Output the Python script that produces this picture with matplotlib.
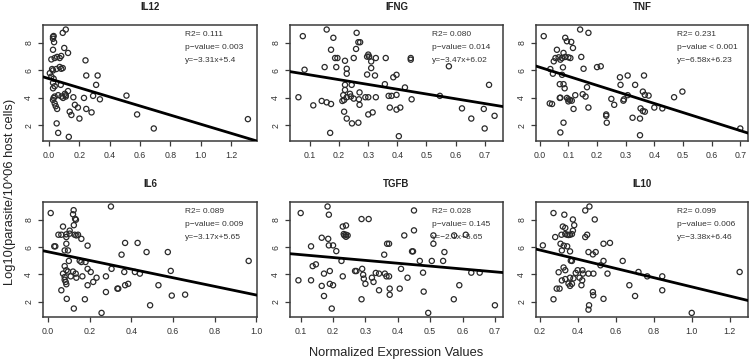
import matplotlib
matplotlib.use("Agg")
import matplotlib.pyplot as plt
import numpy as np

plt.rcParams['font.family'] = ['Liberation Sans', 'DejaVu Sans']

# ---------------- data ----------------
panels = ["IL12", "IFNG", "TNF", "IL6", "TGFB", "IL10"]

il12_x = [0.026,0.026,0.03,0.033,0.09,0.11,0.10,0.125,0.026,0.015,0.037,0.053,0.07,0.08,0.02,0.026,0.048,0.07,0.08,0.09,
          0.005,0.015,0.03,0.026,0.037,0.026,0.077,0.037,0.03,0.026,0.037,0.044,0.053,0.06,0.082,0.092,0.11,0.125,0.104,0.11,
          0.05,0.06,0.13,0.136,0.147,0.16,0.17,0.19,0.2,0.23,0.24,0.245,0.32,0.245,0.28,0.29,0.31,0.335,0.51,0.58,0.69,1.31]
il12_y = [8.44,8.3,8.5,8.05,8.73,8.97,7.63,7.27,7.5,6.8,6.9,6.98,6.9,7.05,6.1,6.0,6.1,6.25,6.12,6.17,
          5.8,5.55,5.4,5.1,4.85,4.7,4.95,4.1,4.0,3.85,3.6,3.4,3.2,4.2,4.1,4.0,4.2,4.5,4.3,4.1,
          2.15,1.46,1.17,3.0,2.76,4.05,3.5,3.3,2.5,4.0,6.73,5.63,5.63,3.2,2.95,4.15,4.95,3.9,4.17,2.8,1.78,2.46]

ifng_x = [0.075,0.081,0.06,0.111,0.14,0.157,0.172,0.157,0.18,0.172,0.186,0.194,0.19,0.15,0.22,0.226,0.226,0.26,0.258,0.266,
          0.272,0.25,0.22,0.22,0.214,0.226,0.217,0.211,0.243,0.237,0.24,0.25,0.217,0.226,0.244,0.266,0.169,0.27,0.268,0.27,
          0.29,0.3,0.3,0.296,0.303,0.31,0.31,0.296,0.323,0.326,0.3,0.315,0.326,0.36,0.357,0.37,0.38,0.397,0.374,0.386,
          0.397,0.397,0.41,0.405,0.426,0.446,0.446,0.449,0.546,0.577,0.622,0.654,0.715,0.697,0.7,0.734]
ifng_y = [8.49,6.05,4.05,3.46,3.78,3.68,3.56,8.97,8.37,7.5,6.9,6.9,6.24,6.24,6.7,6.12,5.76,8.73,7.56,8.05,
          8.05,6.9,4.95,4.58,4.2,4.05,3.85,3.78,4.95,4.3,4.1,3.95,3.0,2.5,2.15,2.2,1.46,4.4,3.9,3.5,
          4.05,4.05,7.15,7.0,7.0,6.65,6.17,5.7,5.63,6.9,2.8,2.95,4.05,6.9,5.0,4.15,4.15,4.22,3.3,5.5,
          5.68,3.15,3.3,1.22,4.76,6.9,6.78,3.9,4.15,6.3,3.24,2.5,4.95,3.2,1.78,2.7]

tnf_x = [0.014,0.089,0.095,0.11,0.141,0.17,0.06,0.083,0.116,0.055,0.066,0.078,0.089,0.1,0.107,0.049,0.072,0.145,0.037,0.046,
         0.081,0.078,0.153,0.2,0.213,0.07,0.083,0.087,0.165,0.07,0.072,0.035,0.043,0.095,0.1,0.1,0.106,0.112,0.124,0.118,
         0.083,0.072,0.15,0.16,0.17,0.232,0.232,0.234,0.25,0.26,0.28,0.282,0.292,0.294,0.307,0.307,0.324,0.333,0.35,0.35,
         0.352,0.36,0.367,0.364,0.36,0.367,0.38,0.4,0.428,0.469,0.498,0.7]
tnf_y = [8.49,8.37,8.12,8.07,8.97,8.73,7.5,7.27,7.63,6.9,6.95,6.9,6.98,6.95,6.9,6.66,6.78,6.98,6.1,5.76,
         6.22,5.68,6.12,6.24,6.3,5.0,5.0,4.7,4.78,4.0,4.02,3.6,3.56,4.0,3.9,3.75,3.85,3.8,4.2,3.2,
         2.2,1.49,4.27,4.1,3.3,2.8,2.7,2.2,3.93,3.5,5.5,4.95,3.8,3.9,5.63,4.2,2.56,4.95,2.5,1.29,
         3.24,3.05,3.0,5.63,4.46,4.22,4.17,3.3,3.24,4.05,4.46,1.78]

il6_x = [0.013,0.03,0.035,0.12,0.123,0.13,0.134,0.124,0.072,0.104,0.05,0.064,0.088,0.104,0.128,0.136,0.144,0.088,0.16,0.088,
         0.08,0.096,0.19,0.152,0.16,0.18,0.1,0.08,0.088,0.096,0.12,0.133,0.136,0.072,0.08,0.08,0.085,0.088,0.109,0.064,
         0.09,0.124,0.19,0.205,0.165,0.19,0.177,0.217,0.233,0.278,0.278,0.257,0.305,0.302,0.333,0.337,0.353,0.37,0.366,0.37,
         0.385,0.417,0.43,0.441,0.473,0.49,0.53,0.575,0.589,0.594,0.658,0.963]
il6_y = [8.49,6.05,6.05,8.4,8.7,8.07,8.0,7.6,7.5,7.2,6.9,6.9,6.93,6.98,6.9,6.85,6.9,6.73,6.6,6.24,
         5.75,5.75,6.1,5.0,4.9,4.9,4.98,4.6,4.3,4.2,4.2,4.05,3.75,4.05,3.8,3.6,3.44,3.27,3.85,2.83,
         2.2,1.49,4.4,4.17,3.85,3.2,2.17,3.44,3.75,3.85,2.7,1.17,4.4,8.97,2.95,2.95,5.44,6.3,4.17,3.2,
         3.3,4.17,6.3,4.05,5.63,1.73,3.2,5.63,4.25,2.44,2.51,4.98]

tgfb_x = [0.1,0.093,0.132,0.132,0.137,0.147,0.165,0.172,0.165,0.172,0.183,0.187,0.185,0.187,0.2,0.21,0.19,0.19,0.2,0.196,
          0.226,0.23,0.23,0.24,0.233,0.235,0.24,0.245,0.24,0.268,0.272,0.288,0.31,0.29,0.293,0.295,0.3,0.288,0.32,0.325,
          0.332,0.342,0.342,0.358,0.36,0.365,0.373,0.375,0.375,0.367,0.373,0.406,0.41,0.42,0.43,0.444,0.447,0.45,0.45,0.468,
          0.478,0.48,0.494,0.505,0.51,0.51,0.54,0.544,0.573,0.59,0.61,0.574,0.627,0.653,0.7]
tgfb_y = [8.49,3.56,6.05,3.56,4.6,4.73,6.68,4.05,3.15,2.41,8.97,8.37,6.6,6.12,6.12,5.7,4.24,3.3,3.2,1.49,
          4.98,3.85,7.5,7.58,6.95,6.85,6.9,6.85,6.75,4.24,4.24,8.05,8.05,4.4,3.97,3.68,3.3,2.17,3.75,3.44,
          4.1,4.05,2.83,5.44,4.05,3.85,3.85,2.95,2.5,6.24,6.24,2.95,4.4,6.85,3.75,5.68,5.68,8.68,7.22,4.98,
          4.12,2.73,1.17,4.98,6.85,6.24,4.98,5.63,2.17,3.2,6.9,6.85,4.12,4.12,1.73]

il10_x = [0.217,0.273,0.282,0.273,0.33,0.322,0.335,0.315,0.335,0.345,0.352,0.36,0.37,0.375,0.382,0.375,0.31,0.327,0.345,0.317,
          0.36,0.364,0.37,0.326,0.335,0.3,0.317,0.335,0.352,0.36,0.37,0.36,0.378,0.29,0.305,0.39,0.4,0.425,0.428,0.41,
          0.424,0.42,0.44,0.462,0.44,0.45,0.49,0.457,0.48,0.495,0.457,0.483,0.48,0.482,0.46,0.457,0.52,0.536,0.536,0.57,
          0.536,0.557,0.637,0.672,0.702,0.72,0.766,0.845,0.845,1.0,1.252]
il10_y = [6.12,8.49,6.73,2.17,8.37,7.5,7.4,6.9,6.95,6.9,6.88,6.9,6.95,7.2,7.6,8.02,6.24,6.1,6.05,5.75,
          5.68,5.0,4.98,4.5,4.3,4.15,3.55,3.65,3.32,3.15,3.3,3.75,3.7,2.95,2.95,4.1,4.3,4.3,4.05,3.75,
          3.56,3.2,8.68,8.97,6.73,6.9,8.02,5.63,5.46,5.63,4.05,4.05,2.7,2.46,1.73,1.41,4.66,4.98,6.24,6.3,
          2.2,4.05,4.98,3.2,2.41,4.17,3.85,3.85,2.83,1.17,4.17]

xs = [il12_x, ifng_x, tnf_x, il6_x, tgfb_x, il10_x]
ys = [il12_y, ifng_y, tnf_y, il6_y, tgfb_y, il10_y]

r2_text = ["0.111", "0.080", "0.231", "0.089", "0.028", "0.099"]
p_text = ["p\u2212value= 0.003", "p\u2212value= 0.014", "p\u2212value < 0.001",
          "p\u2212value= 0.009", "p\u2212value= 0.145", "p\u2212value= 0.006"]
slopes = [-3.31, -3.47, -6.58, -3.17, -2.1, -3.38]
intercepts = [5.4, 6.02, 6.23, 5.65, 5.65, 6.46]
eq_text = ["y=\u22123.31x+5.4", "y=\u22123.47x+6.02", "y=\u22126.58x+6.23",
           "y=\u22123.17x+5.65", "y=\u22122.1x+5.65", "y=\u22123.38x+6.46"]

xticks = [[0.0, 0.2, 0.4, 0.6, 0.8, 1.0, 1.2],
          [0.1, 0.2, 0.3, 0.4, 0.5, 0.6, 0.7],
          [0.0, 0.1, 0.2, 0.3, 0.4, 0.5, 0.6, 0.7],
          [0.0, 0.2, 0.4, 0.6, 0.8, 1.0],
          [0.1, 0.2, 0.3, 0.4, 0.5, 0.6, 0.7],
          [0.2, 0.4, 0.6, 0.8, 1.0, 1.2]]
xlims = [(-0.04, 1.37), (0.031, 0.763), (-0.013, 0.727),
         (-0.024, 1.003), (0.067, 0.725), (0.181, 1.296)]
yticks = [2, 4, 6, 8]
ylim = (0.87, 9.3)

# ---------------- layout ----------------
W, H = 749, 361
fig = plt.figure(figsize=(W / 100, H / 100), dpi=100)
cols = [(43, 257), (290, 503), (536, 748)]
rows = [(25, 141), (202, 317)]

frame_col = '#3a3a3a'
for i, name in enumerate(panels):
    r, c = divmod(i, 3)
    x0, x1 = cols[c]
    t, b = rows[r]
    ax = fig.add_axes([x0 / W, 1 - b / H, (x1 - x0) / W, (b - t) / H])
    ax.scatter(xs[i], ys[i], s=14, facecolors='none', edgecolors='#2a2a2a', linewidths=0.9, zorder=3)
    ax.set_xlim(*xlims[i])
    ax.set_ylim(*ylim)
    lx = np.array(xlims[i])
    ax.plot(lx, slopes[i] * lx + intercepts[i], color='black', lw=2.0, zorder=4)
    ax.set_xticks(xticks[i])
    ax.set_xticklabels([f"{v:.1f}" for v in xticks[i]])
    ax.set_yticks(yticks)
    ax.set_yticklabels([str(v) for v in yticks], rotation=90, va='center')
    ax.tick_params(axis='both', length=3.5, width=0.9, color=frame_col, labelsize=6.3,
                   labelcolor='#333333', direction='out')
    ax.tick_params(axis='x', pad=4)
    ax.tick_params(axis='y', pad=3.5)
    for sp in ax.spines.values():
        sp.set_color(frame_col)
        sp.set_linewidth(1.1)
    ax.set_title(name, fontsize=7, fontweight='bold', pad=11, color='#222222')
    tx = 0.665
    ax.text(tx, 0.915, "R2= " + r2_text[i], transform=ax.transAxes, fontsize=6, color='#333333', va='center')
    ax.text(tx, 0.805, p_text[i], transform=ax.transAxes, fontsize=6, color='#333333', va='center')
    ax.text(tx, 0.695, eq_text[i], transform=ax.transAxes, fontsize=6, color='#333333', va='center')

fig.text(396 / W, 1 - 353 / H, "Normalized Expression Values", ha='center', va='center',
         fontsize=9.3, color='#222222')
fig.text(10 / W, 1 - 192 / H, "Log10(parasite/10^06 host cells)", ha='center', va='center',
         rotation=90, fontsize=9.3, color='#222222')

fig.savefig("out.png", dpi=100)
